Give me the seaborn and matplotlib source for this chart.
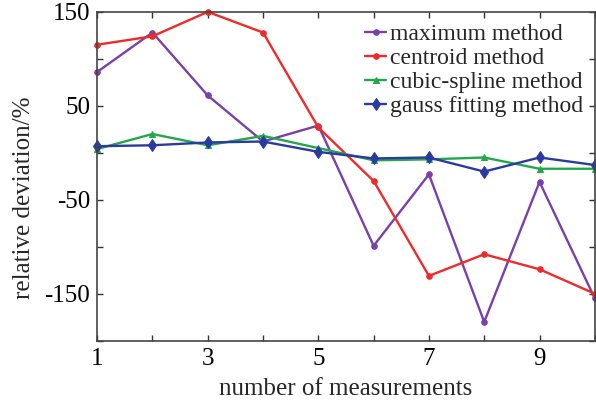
import numpy as np
import pandas as pd
import matplotlib
matplotlib.use("Agg")
import matplotlib.pyplot as plt
import seaborn as sns

sns.set_style("ticks")
plt.rcParams['font.family'] = ['Liberation Serif', 'DejaVu Serif']

# values
measurements = list(range(1, 11))
maximum_method = [86, 128, 61, 12, 29, -99, -23, -180, -31, -155]
centroid_method = [115, 124, 150, 128, 27, -30, -131, -108, -124, -150]
cubic_spline_method = [4, 20, 8, 18, 5, -8, -7, -5, -17, -17]
gauss_fitting_method = [7, 8, 11, 12, 1, -6, -5, -20, -5, -13]

series = [
    ("maximum method", maximum_method, "#7b3fa8", "o", 4),
    ("centroid method", centroid_method, "#ee2a2a", "o", 4),
    ("cubic-spline method", cubic_spline_method, "#22a84a", "^", 5),
    ("gauss fitting method", gauss_fitting_method, "#2a3aa0", "d", 6),
]

fig = plt.figure(figsize=(5.96, 4.09), dpi=100)
ax = fig.add_axes([0.163, 0.167, 0.835, 0.804])

for name, vals, color, marker, ms in series:
    df = pd.DataFrame({"x": measurements, "y": vals})
    sns.lineplot(data=df, x="x", y="y", ax=ax, color=color, marker=marker,
                 markersize=ms, markeredgecolor=color, linewidth=1.7,
                 label=name, clip_on=False)

ax.set_xlim(1, 10)
ax.set_ylim(-200, 150)
ax.set_xticks(measurements)
ax.set_xticklabels([str(m) if m % 2 == 1 else "" for m in measurements])
yt = list(range(-200, 151, 50))
ax.set_yticks(yt)
ax.set_yticklabels([str(v) if v in (-150, -50, 50, 150) else "" for v in yt])
ax.tick_params(direction="in", top=True, right=True, length=4, width=1,
               labelsize=18, pad=5, colors="#333333", labelcolor="black")
for s in ax.spines.values():
    s.set_linewidth(1.2)
    s.set_color("#444444")

ax.set_xlabel("number of measurements", fontsize=18, labelpad=6)
ax.set_ylabel("relative deviation/%", fontsize=18)
ax.yaxis.set_label_coords(-0.125, 0.434)

ax.legend(loc="upper right", frameon=False, fontsize=17, handlelength=0.9,
          handletextpad=0.15, labelspacing=0.1, borderaxespad=0.2,
          borderpad=0.3)

fig.savefig("out.png", dpi=100)
